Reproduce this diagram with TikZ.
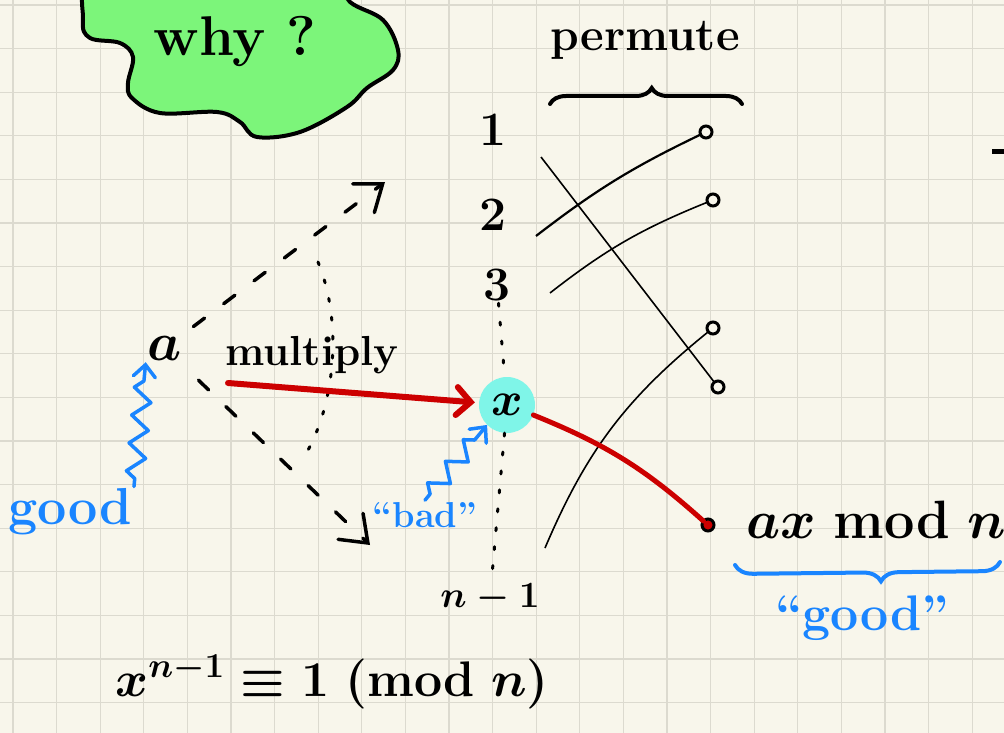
\RequirePackage{fix-cm}
\documentclass[tikz,border=0pt]{standalone}
\usepackage{amssymb}
\usepackage{amsmath}
\usepackage{tikz}
\usetikzlibrary{arrows.meta,decorations.pathreplacing,decorations.pathmorphing}
\definecolor{paper}{HTML}{F8F6EB}
\definecolor{gridc}{HTML}{DCDACF}
\definecolor{leaf}{HTML}{7CF57A}
\definecolor{aqua}{HTML}{7FF5E8}
\definecolor{redc}{HTML}{CC0000}
\definecolor{bluec}{HTML}{1A85FF}
\newcommand{\fs}[1]{\fontsize{#1}{#1}\selectfont\bfseries\boldmath}
\tikzset{vtx/.style={inner sep=0pt, outer sep=0pt, circle, minimum size=12pt, line width=3pt, fill=paper, draw}}
\tikzset{vtxR/.style={vtx, fill=redc}}
\tikzset{lbl/.style={inner sep=2pt, font=\fs{48}}}
\tikzset{blu/.style={lbl, text=bluec}}
\tikzset{wire/.style={line width=1.6pt}}
\tikzset{dsh/.style={line width=3.5pt, line cap=round, dash pattern=on 14pt off 24pt, -{Straight Barb[length=24pt,width=36pt,line cap=round]}}}
\tikzset{zz/.style={bluec, line width=3.5pt, line join=round, line cap=round, decorate, decoration={zigzag, amplitude=9pt, segment length=28pt, pre length=8pt, post length=16pt}, -{Straight Barb[length=12pt,width=22pt,line cap=round]}}}

\begin{document}
\begin{tikzpicture}[x=1pt,y=-1pt]
\useasboundingbox (0,0) rectangle (1004,733);
\clip (0,0) rectangle (1004,733);
\fill[paper] (0,0) rectangle (1004,733);
\draw[gridc, line width=1.3pt]
\foreach \i in {0,...,22}{({13+43.6*\i},0) -- ({13+43.6*\i},733)}
\foreach \j in {0,...,16}{(0,{5+43.6*\j}) -- (1004,{5+43.6*\j})}
;
\draw[fill=leaf, line width=4pt, line join=round] plot[smooth cycle, tension=0.6] coordinates {
(95,-25) (83,20) (90,38) (120,43) (133,57) (128,83) (132,98) (160,113) (217,112)
(240,122) (257,137) (300,132) (347,107) (367,88) (393,70) (398,50) (383,20)
(350,2) (330,-25) (200,-30)};
\node[lbl, font=\fs{56}] (why) at (235,42) {why ?};

\node[lbl, font=\fs{46}] (perm) at (645,40) {permute};
\draw[line width=4pt, line cap=round, decorate, decoration={brace, amplitude=16pt, aspect=0.53}] (550,104) coordinate (p0) -- (742,104) coordinate (p1);

\node[lbl] (n1) at (493,130) {1};
\node[lbl] (n2) at (493,215) {2};
\node[lbl] (n3) at (497,285) {3};
\node[lbl, circle, fill=aqua, minimum size=56pt, inner sep=0pt] (nx) at (507,405) {$x$};
\node[lbl, font=\fs{37}] (nn) at (490,598) {$n-1$};

\draw
\foreach \n/\x/\y in {r1/706/132, r2/713/200, r3/713/328, r4/718/387}{(\x,\y) node[vtx](\n){}}
(708,525) node[vtxR](r5){}
;
\coordinate (s1) at (541,157);
\coordinate (s2) at (536,236);
\coordinate (s3) at (550,293);
\coordinate (s5) at (545,548);
\draw[wire] (s1) -- (r4);
\draw[wire, line width=2.2pt] (s2) to[bend left=6] (r1);
\draw[wire] (s3) to[bend left=8] (r2);
\draw[wire] (s5) to[bend left=14] (r3);
\draw[redc, line width=5pt, line cap=round] (nx) to[bend left=10] (r5);
\node[lbl, font=\fs{54}] (axm) at (876,520) {$ax \bmod n$};
\draw[bluec, line width=4pt, line cap=round, decorate, decoration={brace, amplitude=18pt, aspect=0.45}] (1000,562) coordinate (q1) -- (735,565) coordinate (q0);
\node[blu, font=\fs{50}] (goodq) at (862,618) {``good''};

\draw[line width=3pt, line cap=round, dash pattern=on 3pt off 16pt]
(n3) -- (nx)
(nx) -- (nn)
;

\node[lbl, font=\fs{54}] (a) at (165,348) {$a$};
\node[lbl, font=\fs{42}] (mul) at (312,355) {multiply};
\coordinate (up) at (385,182);
\coordinate (dn) at (370,545);
\coordinate (m0) at (228,383);
\draw[dsh, shorten <=12pt] (a) -- (up);
\draw[dsh, shorten <=26pt] (a) -- (dn);
\coordinate (d0) at (318,262);
\coordinate (d1) at (307,452);
\draw[line width=3pt, line cap=round, dash pattern=on 3pt off 16pt] (d0) .. controls (342,320) and (336,400) .. (d1);
\draw[redc, line width=6pt, line cap=round, shorten >=4pt, -{Straight Barb[length=14pt,width=28pt,line cap=round]}] (m0) -- (nx);

\node[blu, font=\fs{52}] (good) at (70,512) {good};
\node[blu, font=\fs{36}] (bad) at (425,515) {``bad''};
\draw[zz] (good.north east) -- (a.south west);
\draw[zz] (bad.north) -- (nx.225);

\node[lbl, font=\fs{50}] (eq) at (332,682) {$x^{n-1}\equiv 1\;(\mathrm{mod}\;n)$};

\coordinate (e0) at (992,152);
\coordinate (e1) at (1010,152);
\draw[line width=5pt] (e0) -- (e1);
\end{tikzpicture}
\end{document}
